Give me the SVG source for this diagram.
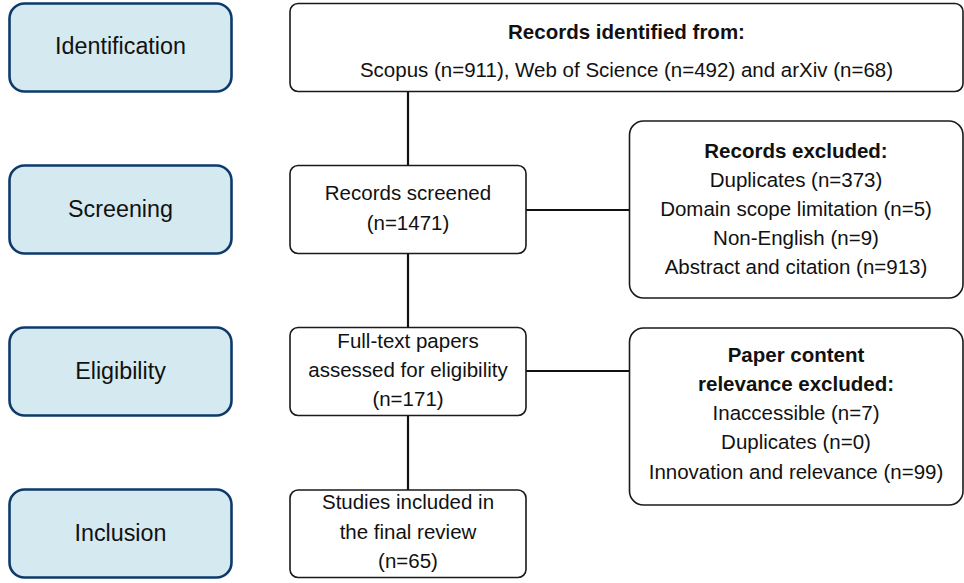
<svg xmlns="http://www.w3.org/2000/svg" width="964" height="583" viewBox="0 0 964 583">
  <style>
    .stage rect { fill: #d5e9f0; stroke: #0e3a6b; stroke-width: 2.6; }
    .stage text { font-family: "Liberation Sans", Arial, sans-serif; font-size: 23.3px; fill: #111; text-anchor: middle; }
    .box rect { fill: #ffffff; stroke: #1a1a1a; stroke-width: 1.6; }
    .box text { font-family: "Liberation Sans", Arial, sans-serif; font-size: 20.5px; fill: #111; text-anchor: middle; }
    .box text.b { font-weight: bold; }
    .links line { stroke: #111; stroke-width: 2.2; }
  </style>

  <rect width="964" height="583" fill="#ffffff"/>

  <!-- connectors -->
  <g id="links" class="links">
    <line x1="408" y1="91" x2="408" y2="165"/>
    <line x1="408" y1="253" x2="408" y2="327"/>
    <line x1="408" y1="415" x2="408" y2="490"/>
    <line x1="526" y1="210" x2="629" y2="210"/>
    <line x1="526" y1="371" x2="629" y2="371"/>
  </g>

  <!-- stage labels -->
  <g id="stage-identification" class="stage">
    <rect x="9.5" y="3.5" width="222" height="88" rx="15"/>
    <text x="120.5" y="54">Identification</text>
  </g>
  <g id="stage-screening" class="stage">
    <rect x="9.5" y="165.5" width="222" height="88" rx="15"/>
    <text x="120.5" y="217">Screening</text>
  </g>
  <g id="stage-eligibility" class="stage">
    <rect x="9.5" y="327.5" width="222" height="88" rx="15"/>
    <text x="120.5" y="379">Eligibility</text>
  </g>
  <g id="stage-inclusion" class="stage">
    <rect x="9.5" y="489.5" width="222" height="88" rx="15"/>
    <text x="120.5" y="541">Inclusion</text>
  </g>

  <!-- flow boxes -->
  <g id="identified" class="box">
    <rect x="290" y="3.5" width="673" height="88" rx="8"/>
    <text class="b" x="626.5" y="39">Records identified from:</text>
    <text x="626.5" y="77">Scopus (n=911), Web of Science (n=492) and arXiv (n=68)</text>
  </g>
  <g id="screened" class="box">
    <rect x="290" y="165.5" width="236" height="88" rx="8"/>
    <text x="408" y="200">Records screened</text>
    <text x="408" y="230">(n=1471)</text>
  </g>
  <g id="excluded" class="box">
    <rect x="629.5" y="121" width="333.5" height="177" rx="14"/>
    <text class="b" x="796" y="158">Records excluded:</text>
    <text x="796" y="187">Duplicates (n=373)</text>
    <text x="796" y="216">Domain scope limitation (n=5)</text>
    <text x="796" y="245">Non-English (n=9)</text>
    <text x="796" y="274">Abstract and citation (n=913)</text>
  </g>
  <g id="fulltext" class="box">
    <rect x="290" y="327.5" width="236" height="88" rx="8"/>
    <text x="408" y="348">Full-text papers</text>
    <text x="408" y="377">assessed for eligibility</text>
    <text x="408" y="406">(n=171)</text>
  </g>
  <g id="content-excluded" class="box">
    <rect x="629.5" y="328" width="333.5" height="177" rx="14"/>
    <text class="b" x="796" y="362">Paper content</text>
    <text class="b" x="796" y="391">relevance excluded:</text>
    <text x="796" y="420">Inaccessible (n=7)</text>
    <text x="796" y="449">Duplicates (n=0)</text>
    <text x="796" y="479">Innovation and relevance (n=99)</text>
  </g>
  <g id="included" class="box">
    <rect x="290" y="490" width="236" height="87.5" rx="8"/>
    <text x="408" y="509">Studies included in</text>
    <text x="408" y="539">the final review</text>
    <text x="408" y="568">(n=65)</text>
  </g>
</svg>
